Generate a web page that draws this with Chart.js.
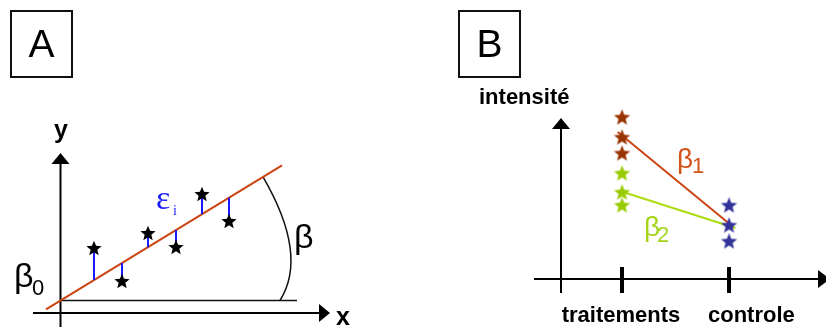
<!DOCTYPE html>
<html>
<head>
<meta charset="utf-8">
<script src="https://cdn.jsdelivr.net/npm/chart.js@4.4.1/dist/chart.umd.min.js"></script>
<style>
  html, body { margin: 0; padding: 0; background: #fff; }
  canvas { display: block; }
</style>
</head>
<body>
<canvas id="diagram" width="826" height="329"></canvas>
<script>
// Panel A: simple regression (units, origin at the axes crossing)
var obsX = [3.35, 6.15, 8.75, 11.55, 14.15, 16.85];
var obsY = [6.5, 3.2, 8.0, 6.6, 11.9, 9.2];
var beta0 = 1.25;      // intercept
var beta = 0.61;       // slope
var fitRangeA = [-1.45, 22.15];

// Panel B: two treatments against a control
var categoriesB = ['traitements', 'controle'];
var categoryPosB = [1, 2];
var treat1Y = [16.2, 14.2, 12.6];
var treat2Y = [10.6, 8.7, 7.4];
var controlY = [7.4, 5.4, 3.8];
var beta1LineX = [0.96, 2.04];
var beta1LineY = [14.7, 5.2];
var beta2LineX = [0.98, 2.06];
var beta2LineY = [8.8, 5.1];

var FONT = '"Liberation Sans", Arial, sans-serif';

function starImage(color, r) {
    var c = document.createElement('canvas');
    var s = Math.ceil(r * 2 + 2);
    c.width = s; c.height = s;
    var g = c.getContext('2d');
    g.fillStyle = color;
    g.beginPath();
    for (var i = 0; i < 10; i++) {
        var rad = i % 2 ? r * 0.44 : r;
        var a = -Math.PI / 2 + i * Math.PI / 5;
        g.lineTo(s / 2 + rad * Math.cos(a), s / 2 + rad * Math.sin(a) + r * 0.09);
    }
    g.closePath();
    g.fill();
    return c;
}

function fitA(x) { return beta0 + beta * x; }

function segment(xs, ys, color, width, xAxis, yAxis) {
    return {
        data: xs.map(function (x, i) { return { x: x, y: ys[i] }; }),
        xAxisID: xAxis, yAxisID: yAxis,
        showLine: true, borderColor: color, borderWidth: width,
        pointRadius: 0, order: 2
    };
}

function stars(xs, ys, color, r, xAxis, yAxis) {
    return {
        data: xs.map(function (x, i) { return { x: x, y: ys[i] }; }),
        xAxisID: xAxis, yAxisID: yAxis,
        pointStyle: starImage(color, r), pointRadius: r,
        showLine: false, order: 0
    };
}

var datasets = [];
// residuals
obsX.forEach(function (x, i) {
    datasets.push(segment([x, x], [obsY[i], fitA(x)], '#1a1aff', 2, 'xA', 'yA'));
});
// fitted line
datasets.push(segment(fitRangeA, fitRangeA.map(fitA), '#cc4411', 2, 'xA', 'yA'));
datasets.push(stars(obsX, obsY, '#000000', 8, 'xA', 'yA'));

datasets.push(segment(beta1LineX, beta1LineY, '#cc4411', 2, 'xB', 'yB'));
datasets.push(segment(beta2LineX, beta2LineY, '#aadd11', 2, 'xB', 'yB'));
datasets.push(stars(treat1Y.map(function () { return categoryPosB[0]; }), treat1Y, '#993300', 8.5, 'xB', 'yB'));
datasets.push(stars(treat2Y.map(function () { return categoryPosB[0]; }), treat2Y, '#99cc00', 8.5, 'xB', 'yB'));
datasets.push(stars(controlY.map(function () { return categoryPosB[1]; }), controlY, '#333399', 8.5, 'xB', 'yB'));

function arrow(ctx, x0, y0, x1, y1, tx, ty, half) {
    // shaft from (x0,y0) to arrow base (x1,y1), head up to (tx,ty)
    ctx.beginPath();
    ctx.moveTo(x0, y0);
    ctx.lineTo(x1, y1);
    ctx.stroke();
    var dx = tx - x1, dy = ty - y1, len = Math.hypot(dx, dy);
    var nx = -dy / len * half, ny = dx / len * half;
    ctx.beginPath();
    ctx.moveTo(tx, ty);
    ctx.lineTo(x1 + nx, y1 + ny);
    ctx.lineTo(x1 - nx, y1 - ny);
    ctx.closePath();
    ctx.fill();
}

var diagramPlugin = {
    id: 'diagram',
    beforeDatasetsDraw: function (chart) {
        var ctx = chart.ctx;
        var xA = chart.scales.xA, yA = chart.scales.yA, xB = chart.scales.xB, yB = chart.scales.yB;
        ctx.save();
        ctx.strokeStyle = '#000';
        ctx.fillStyle = '#000';
        ctx.lineWidth = 2;

        // panel A axes
        var ax = xA.getPixelForValue(0);
        arrow(ctx, ax, yA.getPixelForValue(-1.4), ax, yA.getPixelForValue(14.9), ax, yA.getPixelForValue(16.0), 9);
        var ay = yA.getPixelForValue(0);
        arrow(ctx, xA.getPixelForValue(-2.75), ay, xA.getPixelForValue(25.85), ay, xA.getPixelForValue(26.95), ay, 9);

        // baseline at the intercept and the slope angle arc
        ctx.lineWidth = 1.5;
        ctx.strokeStyle = '#111';
        var by = yA.getPixelForValue(beta0);
        ctx.beginPath();
        ctx.moveTo(ax, by);
        ctx.lineTo(xA.getPixelForValue(23.65), by);
        ctx.stroke();
        var p0 = [xA.getPixelForValue(20.25), yA.getPixelForValue(fitA(20.25))];
        var pm = [xA.getPixelForValue(22.95), yA.getPixelForValue(6.6)];
        var p2 = [xA.getPixelForValue(21.95), by];
        var cx = 2 * pm[0] - (p0[0] + p2[0]) / 2, cy = 2 * pm[1] - (p0[1] + p2[1]) / 2;
        ctx.beginPath();
        ctx.moveTo(p0[0], p0[1]);
        ctx.quadraticCurveTo(cx, cy, p2[0], p2[1]);
        ctx.stroke();

        // panel B axes
        ctx.lineWidth = 2;
        ctx.strokeStyle = '#000';
        var bx = xB.getPixelForValue(0.43);
        arrow(ctx, bx, yB.getPixelForValue(-1.4), bx, yB.getPixelForValue(15.0), bx, yB.getPixelForValue(16.1), 9);
        var bay = yB.getPixelForValue(0);
        arrow(ctx, xB.getPixelForValue(0.178), bay, xB.getPixelForValue(2.832), bay, xB.getPixelForValue(2.944), bay, 9);
        ctx.lineWidth = 4;
        categoryPosB.forEach(function (v) {
            var tx = xB.getPixelForValue(v);
            ctx.beginPath();
            ctx.moveTo(tx, yB.getPixelForValue(1.2));
            ctx.lineTo(tx, yB.getPixelForValue(-1.4));
            ctx.stroke();
        });
        ctx.restore();
    },
    afterDatasetsDraw: function (chart) {
        var ctx = chart.ctx;
        var xB = chart.scales.xB;
        ctx.save();
        ctx.textBaseline = 'alphabetic';

        // panel boxes
        ctx.strokeStyle = '#111';
        ctx.lineWidth = 2;
        ctx.strokeRect(11, 11, 61, 66);
        ctx.strokeRect(459, 11, 61, 66);
        ctx.fillStyle = '#000';
        ctx.textAlign = 'center';
        ctx.font = '39px ' + FONT;
        ctx.fillText('A', 41.5, 57);
        ctx.fillText('B', 489.5, 57);

        // panel A texts
        ctx.font = 'bold 25px ' + FONT;
        ctx.fillText('y', 61, 138);
        ctx.textAlign = 'left';
        ctx.fillText('x', 336, 325);
        ctx.font = '34px ' + FONT;
        ctx.fillText('\u03b2', 14, 287);
        ctx.fillText('\u03b2', 294, 248);
        ctx.font = '22px ' + FONT;
        ctx.fillText('0', 32, 295);
        ctx.fillStyle = '#1a1aff';
        ctx.font = '34px "Liberation Serif", "Times New Roman", serif';
        ctx.fillText('\u03b5', 156, 209);
        ctx.font = '14px "Liberation Serif", "Times New Roman", serif';
        ctx.fillText('i', 173, 215);

        // panel B texts
        ctx.fillStyle = '#000';
        ctx.font = 'bold 22px ' + FONT;
        ctx.fillText('intensit\u00e9', 479, 104);
        ctx.textAlign = 'center';
        ctx.fillText(categoriesB[0], xB.getPixelForValue(categoryPosB[0]) - 1, 322);
        ctx.textAlign = 'left';
        ctx.fillText(categoriesB[1], 708, 322);

        ctx.fillStyle = '#d2541a';
        ctx.font = '28px ' + FONT;
        ctx.fillText('\u03b2', 677, 168);
        ctx.font = '22px ' + FONT;
        ctx.fillText('1', 692, 173);
        ctx.fillStyle = '#a6d41e';
        ctx.font = '28px ' + FONT;
        ctx.fillText('\u03b2', 644, 236);
        ctx.font = '22px ' + FONT;
        ctx.fillText('2', 657, 242);
        ctx.restore();
    }
};

new Chart(document.getElementById('diagram').getContext('2d'), {
    type: 'scatter',
    data: { datasets: datasets },
    options: {
        responsive: false,
        animation: false,
        events: [],
        layout: { padding: 0, autoPadding: false },
        plugins: { legend: { display: false }, tooltip: { enabled: false } },
        scales: {
            xA: { type: 'linear', axis: 'x', display: false, min: -6.05, max: 76.55 },
            yA: { type: 'linear', axis: 'y', display: false, min: -1.6, max: 31.3 },
            xB: { type: 'linear', axis: 'x', display: false, min: -4.813, max: 2.9065 },
            yB: { type: 'linear', axis: 'y', display: false, min: -5, max: 27.9 }
        }
    },
    plugins: [diagramPlugin]
});
</script>
</body>
</html>
